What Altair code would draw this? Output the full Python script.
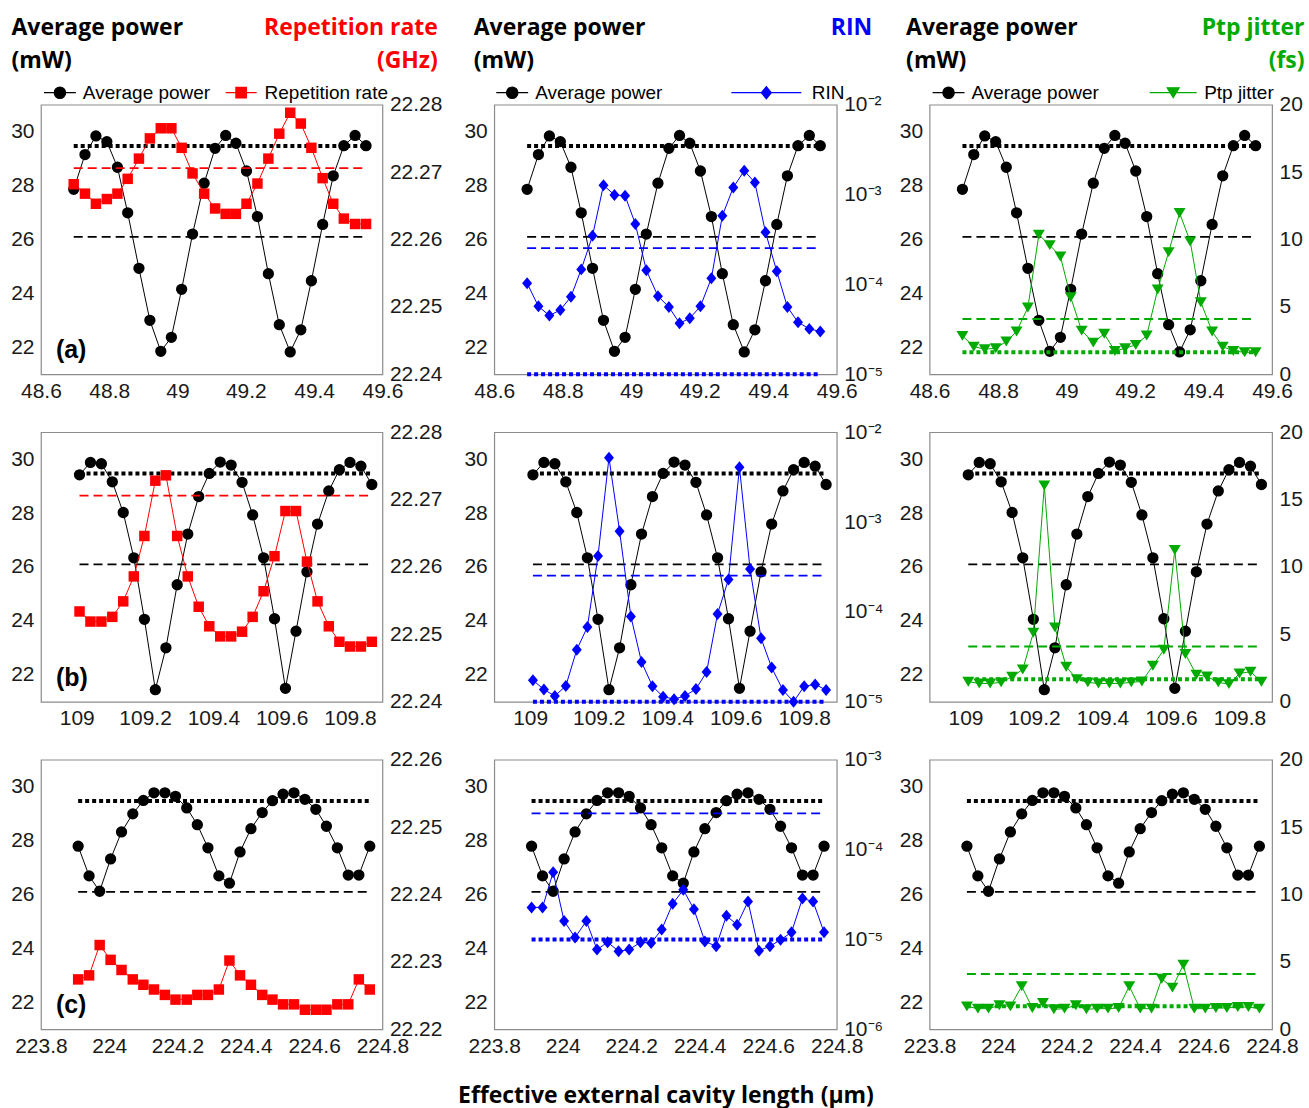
import altair as alt
import pandas as pd

# ---------------- sweep positions (effective external cavity length, um) ----------------
x_a = [48.696, 48.729, 48.761, 48.793, 48.824, 48.854, 48.887, 48.919, 48.951, 48.982,
       49.012, 49.044, 49.078, 49.110, 49.141, 49.171, 49.202, 49.234, 49.266, 49.298,
       49.330, 49.361, 49.392, 49.425, 49.456, 49.487, 49.520, 49.552]
x_b = [109.008, 109.040, 109.072, 109.104, 109.136, 109.167, 109.198, 109.230, 109.261, 109.294,
       109.325, 109.357, 109.388, 109.420, 109.452, 109.484, 109.515, 109.547, 109.579, 109.611,
       109.642, 109.674, 109.705, 109.738, 109.769, 109.800, 109.832, 109.864]
x_c = [223.909, 223.941, 223.972, 224.004, 224.036, 224.069, 224.100, 224.131, 224.163, 224.194,
       224.227, 224.258, 224.289, 224.321, 224.352, 224.383, 224.415, 224.448, 224.478, 224.509,
       224.541, 224.573, 224.605, 224.636, 224.668, 224.700, 224.731, 224.763]

# ---------------- average power (mW) ----------------
power_a = [27.86, 29.15, 29.84, 29.63, 28.68, 26.99, 24.93, 23.00, 21.85, 22.37,
           24.15, 26.20, 28.09, 29.38, 29.86, 29.57, 28.54, 26.85, 24.73, 22.84,
           21.83, 22.65, 24.47, 26.56, 28.36, 29.48, 29.86, 29.48]
power_b = [29.42, 29.88, 29.83, 29.16, 28.02, 26.34, 24.06, 21.45, 23.00, 25.34,
           27.22, 28.61, 29.47, 29.89, 29.78, 29.14, 27.93, 26.34, 24.08, 21.50,
           23.62, 25.82, 27.59, 28.82, 29.61, 29.88, 29.74, 29.06]
power_c = [27.79, 26.69, 26.12, 27.32, 28.32, 28.99, 29.49, 29.77, 29.77, 29.64,
           29.21, 28.59, 27.73, 26.69, 26.42, 27.58, 28.44, 29.04, 29.48, 29.72,
           29.77, 29.53, 29.16, 28.53, 27.73, 26.72, 26.72, 27.79]

# ---------------- repetition rate (GHz) ----------------
rep_a = [22.2682, 22.2668, 22.2653, 22.2660, 22.2668, 22.2690, 22.2720, 22.2750, 22.2765, 22.2765,
         22.2736, 22.2698, 22.2668, 22.2646, 22.2638, 22.2638, 22.2653, 22.2683, 22.2720, 22.2757,
         22.2788, 22.2772, 22.2736, 22.2691, 22.2653, 22.2631, 22.2623, 22.2623]
rep_b = [22.2534, 22.2519, 22.2519, 22.2526, 22.2549, 22.2586, 22.2646, 22.2728, 22.2736, 22.2646,
         22.2586, 22.2541, 22.2512, 22.2497, 22.2497, 22.2504, 22.2526, 22.2564, 22.2616, 22.2683,
         22.2683, 22.2608, 22.2549, 22.2512, 22.2489, 22.2482, 22.2482, 22.2489]
rep_c = [22.2274, 22.2280, 22.2325, 22.2303, 22.2288, 22.2274, 22.2266, 22.2259, 22.2251, 22.2244,
         22.2244, 22.2251, 22.2251, 22.2259, 22.2302, 22.2280, 22.2266, 22.2251, 22.2244, 22.2237,
         22.2237, 22.2229, 22.2229, 22.2229, 22.2237, 22.2237, 22.2274, 22.2259]

# ---------------- relative intensity noise ----------------
rin_a = [1.03e-4, 5.7e-5, 4.5e-5, 5.2e-5, 7.3e-5, 1.47e-4, 3.47e-4, 1.27e-3, 9.9e-4, 9.7e-4,
         4.7e-4, 1.44e-4, 7.4e-5, 5.6e-5, 3.7e-5, 4.2e-5, 5.7e-5, 1.17e-4, 5.8e-4, 1.2e-3,
         1.84e-3, 1.36e-3, 3.8e-4, 1.4e-4, 5.6e-5, 3.8e-5, 3.2e-5, 3.0e-5]
rin_b = [1.74e-5, 1.37e-5, 1.16e-5, 1.5e-5, 3.8e-5, 6.8e-5, 4.2e-4, 5.2e-3, 7.9e-4, 8.9e-5,
         2.77e-5, 1.49e-5, 1.14e-5, 1.07e-5, 1.16e-5, 1.39e-5, 2.14e-5, 9.5e-5, 2.3e-4, 4.07e-3,
         3.0e-4, 5.1e-5, 2.4e-5, 1.35e-5, 1.0e-5, 1.49e-5, 1.56e-5, 1.35e-5]
rin_c = [2.27e-5, 2.27e-5, 5.6e-5, 1.6e-5, 1.05e-5, 1.6e-5, 7.7e-6, 9.3e-6, 7.4e-6, 7.7e-6,
         9.3e-6, 9.1e-6, 1.29e-5, 2.49e-5, 3.56e-5, 2.17e-5, 9.5e-6, 8.4e-6, 1.83e-5, 1.46e-5,
         2.64e-5, 7.5e-6, 8.4e-6, 9.9e-6, 1.2e-5, 2.86e-5, 2.64e-5, 1.2e-5]

# ---------------- peak-to-peak timing jitter (fs) ----------------
jit_a = [2.85, 2.05, 1.86, 1.93, 2.43, 3.17, 4.95, 10.35, 9.58, 8.74,
         5.72, 3.24, 2.35, 3.00, 1.73, 1.93, 2.18, 2.87, 6.29, 9.06,
         11.96, 9.85, 5.35, 3.17, 2.05, 1.73, 1.63, 1.63]
jit_b = [1.49, 1.36, 1.36, 1.44, 1.86, 2.40, 5.12, 16.04, 5.52, 2.60,
         1.68, 1.44, 1.36, 1.36, 1.36, 1.44, 1.51, 2.67, 3.86, 11.26,
         3.54, 2.00, 1.88, 1.44, 1.31, 2.10, 2.23, 1.49]
jit_c = [1.70, 1.53, 1.53, 1.78, 1.70, 3.19, 1.58, 1.95, 1.48, 1.53,
         1.78, 1.48, 1.53, 1.53, 1.58, 3.19, 1.53, 1.53, 3.75, 3.09,
         4.79, 1.53, 1.53, 1.58, 1.58, 1.65, 1.65, 1.53]

# ---------------- reference levels ----------------
power_dotted = 29.47
power_dashed = 26.1
rep_dashed = 22.2706
rin_dashed = 2.53e-4
rin_dotted = 1e-5
jit_dashed = 4.1
jit_dotted = [1.63, 1.68, 1.70]

# ---------------- axis ranges and ticks ----------------
x_domains = [[48.6, 49.6], [108.895, 109.895], [223.8, 224.8]]
x_ticks = [[48.6, 48.8, 49.0, 49.2, 49.4, 49.6],
           [109.0, 109.2, 109.4, 109.6, 109.8],
           [223.8, 224.0, 224.2, 224.4, 224.6, 224.8]]
power_domain = [21, 31]
power_ticks = [22, 24, 26, 28, 30]
rep_domains = [[22.24, 22.28], [22.24, 22.28], [22.22, 22.26]]
rep_ticks = [[22.24, 22.25, 22.26, 22.27, 22.28],
             [22.24, 22.25, 22.26, 22.27, 22.28],
             [22.22, 22.23, 22.24, 22.25, 22.26]]
rin_domains = [[1e-5, 1e-2], [1e-5, 1e-2], [1e-6, 1e-3]]
rin_exponents = [[-5, -4, -3, -2], [-5, -4, -3, -2], [-6, -5, -4, -3]]
jit_domain = [0, 20]
jit_ticks = [0, 5, 10, 15, 20]

panel_tags = ['(a)', '(b)', '(c)']
x_title = 'Effective external cavity length (\u03bcm)'

X = [x_a, x_b, x_c]
POWER = [power_a, power_b, power_c]
REP = [rep_a, rep_b, rep_c]
RIN = [rin_a, rin_b, rin_c]
JIT = [jit_a, jit_b, jit_c]

# ---------------- styling ----------------
RED = '#ff0000'
BLUE = '#0000ff'
GREEN = '#00aa00'
FRAME = '#8c8c8c'
TICK_FONT = 'Liberation Sans'
HEAD_FONT = 'Open Sans'

CIRCLE = 'M1,0A1,1,0,1,1,-1,0A1,1,0,1,1,1,0Z'
SQUARE = 'M-1,-1H1V1H-1Z'
DIAMOND = 'M0,-1.2L1,0L0,1.2L-1,0Z'
TRIANGLE_DOWN = 'M-1,-0.83L1,-0.83L0,0.83Z'

WIDTHS = [342, 343, 343]
HEIGHT = 270
COL_GAP = 46           # grid spacing; extra room between columns comes from spacer cells
SPACER_W = [20, 1]
ROW_GAP = 58
LEG_Y = -21.5
SUP = {'-2': '\u207b\u00b2', '-3': '\u207b\u00b3', '-4': '\u207b\u2074',
       '-5': '\u207b\u2075', '-6': '\u207b\u2076'}


def key_path(marker, half):
    """Legend key: a short line through the marker."""
    return f'M{-half},0H{half}' + marker


def key_legend(x, label_offset, path, size, color):
    return alt.Legend(
        orient='none', legendX=x, legendY=LEG_Y, title=None, padding=0,
        symbolType=path, symbolSize=size, symbolStrokeWidth=1.2,
        symbolFillColor=color, symbolStrokeColor=color, symbolOpacity=1,
        labelOffset=label_offset, labelFont=TICK_FONT, labelFontSize=19,
        labelColor='black')


# per-column settings of the second quantity
SERIES = [
    dict(name='Repetition rate', head=['Repetition rate', '(GHz)'], color=RED,
         shape='square', size=110, key=key_path(SQUARE, 2.96),
         head_x=55, power_key_x=9.5, key_x=191, key_off=14),
    dict(name='RIN', head='RIN', color=BLUE,
         shape=DIAMOND, size=100, key=key_path(DIAMOND, 7.0),
         head_x=35, power_key_x=8.5, key_x=263, key_off=36),
    dict(name='Ptp jitter', head=['Ptp jitter', '(fs)'], color=GREEN,
         shape=TRIANGLE_DOWN, size=144, key=key_path(TRIANGLE_DOWN, 3.92),
         head_x=32, power_key_x=9.5, key_x=234.5, key_off=21.5),
]
LEFT_HEAD_X = [-30, -21, -24]


def head_props(text, x, align, color):
    return dict(title=text, titleAngle=0, titleAlign=align, titleBaseline='top',
                titleX=x, titleY=-88, titleFont=HEAD_FONT, titleFontSize=23,
                titleFontWeight='bold', titleColor=color, titleLineHeight=33)


def make_panel(r, c):
    xs = X[r]
    top = r == 0
    s = SERIES[c]

    # shared x encoding
    xkw = dict(values=x_ticks[r], format='.1~f')
    if r == 2 and c == 1:
        xkw.update(title=x_title, titleFont=HEAD_FONT, titleFontSize=23,
                   titleFontWeight='bold', titleColor='black',
                   titleBaseline='middle', titleY=66)
    else:
        xkw.update(title=None)
    x_axis = alt.Axis(**xkw)
    x_scale = alt.Scale(domain=x_domains[r], nice=False, zero=False)

    def xe(field):
        return alt.X(f'{field}:Q', scale=x_scale, axis=x_axis)

    # ---- left: average power ----
    lkw = dict(orient='left', values=power_ticks)
    if top:
        lkw.update(head_props(['Average power', '(mW)'], LEFT_HEAD_X[c], 'left', 'black'))
    else:
        lkw.update(title=None)
    l_axis = alt.Axis(**lkw)
    l_scale = alt.Scale(domain=power_domain, nice=False, zero=False)

    def yl(field):
        return alt.Y(f'{field}:Q', scale=l_scale, axis=l_axis)

    pw = pd.DataFrame({'x': xs, 'y': POWER[r], 'series': 'Average power'})
    p_leg = key_legend(s['power_key_x'], 13.5, key_path(CIRCLE, 2.8), 130, 'black') if top else None
    p_line = alt.Chart(pw).mark_line(color='black', strokeWidth=1).encode(x=xe('x'), y=yl('y'))
    p_pts = alt.Chart(pw).mark_point(filled=True, shape='circle', size=128, opacity=1,
                                     strokeWidth=0).encode(
        x=xe('x'), y=yl('y'),
        color=alt.Color('series:N', scale=alt.Scale(domain=['Average power'], range=['black']),
                        legend=p_leg))
    p_lev = pd.DataFrame({'x0': [xs[0]], 'x1': [xs[-1]],
                          'hi': [power_dotted], 'lo': [power_dashed]})
    p_dot = alt.Chart(p_lev).mark_rule(color='black', strokeWidth=4, strokeDash=[4, 3]).encode(
        x=xe('x0'), x2='x1:Q', y=yl('hi'))
    p_dash = alt.Chart(p_lev).mark_rule(color='black', strokeWidth=1.8, strokeDash=[9, 5]).encode(
        x=xe('x0'), x2='x1:Q', y=yl('lo'))
    layers_left = [p_line, p_dash, p_dot, p_pts]
    if c == 0:
        tag = pd.DataFrame({'t': [panel_tags[r]]})
        layers_left.append(alt.Chart(tag).mark_text(
            font=TICK_FONT, fontSize=25, fontWeight='bold', align='left',
            baseline='middle', color='black').encode(
            x=alt.value(15), y=alt.value(246), text='t:N'))
    left = alt.layer(*layers_left)

    # ---- right: second quantity ----
    if c == 0:
        vals = REP[r]
        r_scale = alt.Scale(domain=rep_domains[r], nice=False, zero=False)
        rkw = dict(values=rep_ticks[r], format='.2f')
        lev = dict(dashed=rep_dashed, dotted=None)
    elif c == 1:
        vals = RIN[r]
        r_scale = alt.Scale(type='log', domain=rin_domains[r], nice=False)
        exps = rin_exponents[r]
        expr = ''
        for e in exps[:-1]:
            expr += f"datum.value < {2 * 10 ** e:g} ? '10{SUP[str(e)]}' : "
        expr += f"'10{SUP[str(exps[-1])]}'"
        rkw = dict(values=[10.0 ** e for e in exps], labelExpr=expr)
        lev = dict(dashed=rin_dashed, dotted=rin_dotted)
    else:
        vals = JIT[r]
        r_scale = alt.Scale(domain=jit_domain, nice=False, zero=False)
        rkw = dict(values=jit_ticks)
        lev = dict(dashed=jit_dashed, dotted=jit_dotted[r])
    rkw['orient'] = 'right'
    if top:
        rkw.update(head_props(s['head'], s['head_x'], 'right', s['color']))
    else:
        rkw.update(title=None)
    r_axis = alt.Axis(**rkw)

    def yr(field):
        return alt.Y(f'{field}:Q', scale=r_scale, axis=r_axis)

    sd = pd.DataFrame({'x': xs, 'v': vals, 'series': s['name']})
    s_leg = key_legend(s['key_x'], s['key_off'], s['key'], s['size'], s['color']) if top else None
    s_line = alt.Chart(sd).mark_line(color=s['color'], strokeWidth=1).encode(x=xe('x'), y=yr('v'))
    s_pts = alt.Chart(sd).mark_point(filled=True, shape=s['shape'], size=s['size'], opacity=1,
                                     strokeWidth=0).encode(
        x=xe('x'), y=yr('v'),
        color=alt.Color('series:N', scale=alt.Scale(domain=[s['name']], range=[s['color']]),
                        legend=s_leg))
    layers_right = [s_line]
    r_lev = pd.DataFrame({'x0': [xs[0]], 'x1': [xs[-1]], 'dashed': [lev['dashed']]})
    layers_right.append(alt.Chart(r_lev).mark_rule(
        color=s['color'], strokeWidth=1.8, strokeDash=[9, 5], clip=True).encode(
        x=xe('x0'), x2='x1:Q', y=yr('dashed')))
    if lev['dotted'] is not None:
        d_lev = pd.DataFrame({'x0': [xs[0]], 'x1': [xs[-1]], 'dotted': [lev['dotted']]})
        layers_right.append(alt.Chart(d_lev).mark_rule(
            color=s['color'], strokeWidth=4, strokeDash=[4, 3]).encode(
            x=xe('x0'), x2='x1:Q', y=yr('dotted')))
    layers_right.append(s_pts)
    right = alt.layer(*layers_right)

    return (alt.layer(left, right)
            .resolve_scale(y='independent', color='independent')
            .properties(width=WIDTHS[c], height=HEIGHT))


def spacer(w):
    """Empty grid cell that widens the gap between two panel columns."""
    return (alt.Chart(pd.DataFrame({'z': [0]}))
            .mark_point(opacity=0)
            .encode(x=alt.value(0), y=alt.value(0))
            .properties(width=w, height=HEIGHT, view=alt.ViewBackground(stroke='transparent')))


cells = []
for r in range(3):
    cells += [make_panel(r, 0), spacer(SPACER_W[0]), make_panel(r, 1),
              spacer(SPACER_W[1]), make_panel(r, 2)]

chart = (
    alt.concat(*cells, columns=5, bounds='flush',
               spacing={'row': ROW_GAP, 'column': COL_GAP})
    .resolve_scale(color='independent')
    .properties(padding={'left': 10, 'top': 15, 'right': 4, 'bottom': 0},
                background='white')
    .configure_view(stroke=FRAME, strokeWidth=1.2)
    .configure_axis(grid=False, domain=False, ticks=False, labelFont=TICK_FONT,
                    labelFontSize=21, labelColor='#1a1a1a', labelPadding=7,
                    labelFlush=False, labelOverlap=False)
    .configure_axisX(labelPadding=6)
)

chart.save('out.html', embed_options={'renderer': 'svg', 'actions': False})
